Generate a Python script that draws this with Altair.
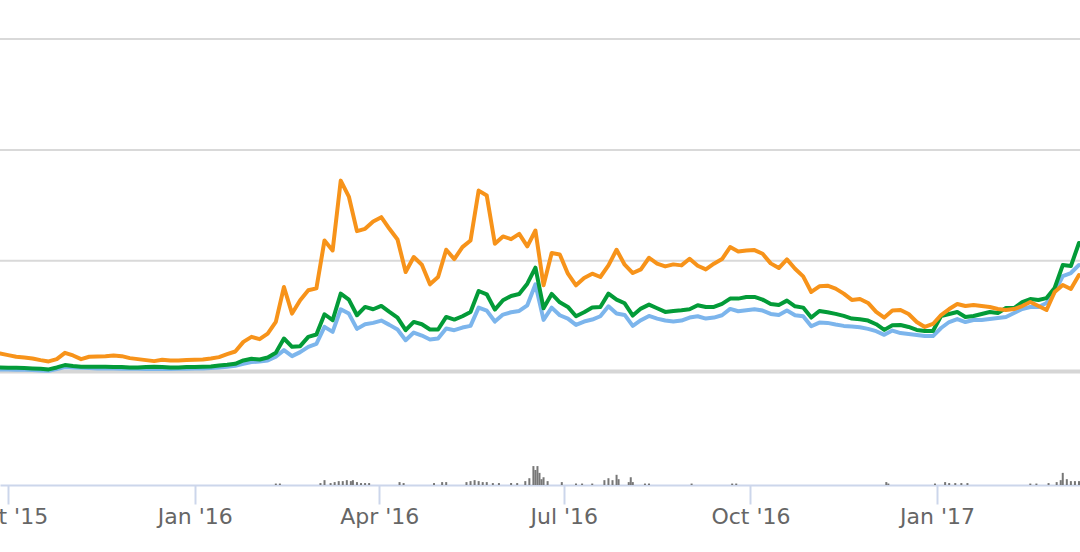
import altair as alt
import pandas as pd

# 4-day sampling grid, Sep 27 2015 .. Mar 12 2017
dates = pd.date_range("2015-09-27", periods=134, freq="4D").strftime("%Y-%m-%d").tolist()

orange = [1.63, 1.48, 1.33, 1.27, 1.18, 1.03, 0.91, 1.12, 1.69, 1.45,
          1.12, 1.33, 1.36, 1.39, 1.45, 1.39, 1.21, 1.12, 1.03, 0.94,
          1.06, 1.00, 1.00, 1.03, 1.06, 1.09, 1.18, 1.30, 1.57, 1.81,
          2.68, 3.13, 2.92, 3.43, 4.48, 7.63, 5.23, 6.43, 7.33, 7.51,
          11.83, 10.93, 17.23, 15.79, 12.67, 12.88, 13.54, 13.93, 12.88, 11.92,
          8.98, 10.33, 9.64, 7.87, 8.53, 10.99, 10.15, 11.23, 11.83, 16.33,
          15.88, 11.53, 12.19, 11.95, 12.43, 11.29, 12.73,
          7.78, 10.69, 10.57, 8.83, 7.78, 8.44, 8.83, 8.53, 9.58, 10.99,
          9.64, 8.89, 9.22, 10.27, 9.73, 9.49, 9.67, 9.58, 10.18, 9.55,
          9.22, 9.73, 10.15, 11.23, 10.84, 10.93, 10.96, 10.63, 9.76, 9.34,
          10.12, 9.28, 8.59, 7.18, 7.69, 7.75, 7.48, 7.03, 6.46, 6.55,
          6.19, 5.38, 4.87, 5.50,
          5.55, 5.19, 4.47, 4.02, 4.29, 5.10, 5.64, 6.09, 5.91, 6.00,
          5.91, 5.82, 5.64, 5.55, 5.64, 5.91, 6.27, 5.91, 5.55, 7.18,
          7.81, 7.45, 8.71]

green = [0.37, 0.34, 0.34, 0.31, 0.28, 0.25, 0.19, 0.37, 0.58, 0.49,
         0.43, 0.43, 0.43, 0.43, 0.40, 0.40, 0.37, 0.37, 0.40, 0.43,
         0.40, 0.37, 0.37, 0.40, 0.40, 0.43, 0.46, 0.55, 0.61, 0.70,
         1.00, 1.15, 1.09, 1.27, 1.69, 2.98, 2.23, 2.29, 3.13, 3.34,
         5.17, 4.63, 7.03, 6.49, 5.08, 5.83, 5.62, 5.92, 5.38, 4.87,
         3.73, 4.48, 4.27, 3.79, 3.79, 4.93, 4.69, 4.99, 5.38, 7.27,
         6.97, 5.59, 6.43, 6.82, 7.00, 7.93, 9.37,
         5.71, 7.00, 6.25, 5.83, 4.99, 5.35, 5.77, 5.83, 7.03, 6.49,
         6.16, 5.05, 5.68, 6.04, 5.71, 5.38, 5.47, 5.53, 5.62, 5.98,
         5.83, 5.83, 6.10, 6.58, 6.58, 6.73, 6.73, 6.49, 6.10, 6.01,
         6.40, 5.89, 5.77, 4.87, 5.47, 5.35, 5.20, 5.02, 4.78, 4.72,
         4.60, 4.27, 3.76, 4.18,
         4.20, 4.02, 3.75, 3.66, 3.66, 5.01, 5.19, 5.37, 4.92, 5.01,
         5.19, 5.37, 5.28, 5.73, 5.73, 6.27, 6.54, 6.45, 6.63, 7.54,
         9.61, 9.52, 11.60]

blue = [0.19, 0.19, 0.16, 0.16, 0.13, 0.10, 0.07, 0.22, 0.40, 0.37,
        0.34, 0.31, 0.28, 0.28, 0.28, 0.25, 0.25, 0.25, 0.22, 0.22,
        0.22, 0.22, 0.25, 0.25, 0.28, 0.28, 0.31, 0.37, 0.43, 0.52,
        0.70, 0.85, 0.91, 1.00, 1.33, 1.93, 1.39, 1.75, 2.23, 2.50,
        4.03, 3.58, 5.62, 5.23, 3.85, 4.27, 4.39, 4.60, 4.21, 3.79,
        2.83, 3.52, 3.25, 2.89, 2.98, 3.88, 3.73, 3.97, 4.12, 5.77,
        5.50, 4.51, 5.14, 5.35, 5.47, 5.98, 7.87,
        4.66, 5.77, 5.08, 4.78, 4.21, 4.51, 4.69, 4.99, 5.89, 5.23,
        5.11, 4.12, 4.63, 5.02, 4.78, 4.60, 4.51, 4.60, 4.87, 4.99,
        4.78, 4.87, 5.08, 5.65, 5.44, 5.53, 5.62, 5.50, 5.20, 5.11,
        5.50, 5.08, 4.99, 4.09, 4.42, 4.39, 4.24, 4.12, 4.06, 4.00,
        3.85, 3.64, 3.31, 3.70,
        3.47, 3.38, 3.29, 3.20, 3.20, 3.93, 4.47, 4.74, 4.47, 4.65,
        4.65, 4.74, 4.83, 4.92, 5.28, 5.64, 5.82, 5.82, 6.18, 7.18,
        8.62, 8.89, 9.61]

vol_dates = ["2016-02-10", "2016-02-12",
             "2016-03-03", "2016-03-05", "2016-03-08", "2016-03-10", "2016-03-12",
             "2016-03-14", "2016-03-16", "2016-03-18", "2016-03-19", "2016-03-21",
             "2016-03-23", "2016-03-25", "2016-03-27",
             "2016-04-11", "2016-04-13",
             "2016-04-28", "2016-05-02", "2016-05-04",
             "2016-05-14", "2016-05-16", "2016-05-18", "2016-05-20", "2016-05-22",
             "2016-05-24", "2016-05-27", "2016-05-30",
             "2016-06-05", "2016-06-08",
             "2016-06-12", "2016-06-14", "2016-06-16", "2016-06-17", "2016-06-18",
             "2016-06-19", "2016-06-20", "2016-06-21", "2016-06-23",
             "2016-06-30", "2016-07-07", "2016-07-10", "2016-07-15",
             "2016-07-21", "2016-07-23", "2016-07-25", "2016-07-27", "2016-07-28",
             "2016-08-02", "2016-08-03", "2016-08-04",
             "2016-08-10", "2016-08-12",
             "2016-09-02",
             "2016-09-22", "2016-09-24",
             "2016-12-07", "2016-12-08",
             "2016-12-31",
             "2017-01-05", "2017-01-07", "2017-01-10", "2017-01-13", "2017-01-16",
             "2017-02-16", "2017-02-19",
             "2017-02-25",
             "2017-03-01", "2017-03-03", "2017-03-04", "2017-03-06", "2017-03-08",
             "2017-03-10", "2017-03-12"]
vol_values = [0.3, 0.3,
              0.4, 1.0, 0.4, 0.6, 0.8, 0.8, 1.0, 0.8, 1.0, 0.6, 0.4, 0.4, 0.4,
              0.6, 0.4,
              0.4, 0.6, 0.6,
              0.6, 0.8, 1.0, 0.8, 0.6, 0.6, 0.4, 0.4,
              0.4, 0.4,
              0.8, 1.4, 3.9, 3.1, 3.9, 2.5, 1.2, 1.6, 0.8,
              0.6, 0.3, 0.3, 0.3,
              1.0, 1.4, 1.0, 2.1, 1.2,
              0.6, 1.6, 0.6,
              0.3, 0.3,
              0.3,
              0.3, 0.3,
              0.6, 0.3,
              0.3,
              0.6, 0.4, 0.4, 0.4, 0.4,
              0.3, 0.3,
              0.4,
              0.6, 1.0, 2.5, 1.2, 0.8, 0.8, 0.8]

grid_values = [10, 20, 30]
zero_value = [0]
tick_dates = [(2015, 10), (2016, 1), (2016, 4), (2016, 7), (2016, 10), (2017, 1)]

Y_DOMAIN = [-10.24, 33.53]
VOL_DOMAIN = [0, 100]

x_enc = alt.X(
    "date:T",
    scale=alt.Scale(
        type="utc",
        padding=0,
        domain=[alt.DateTime(year=2015, month=9, date=27, utc=True),
                alt.DateTime(year=2017, month=3, date=12, hours=12, utc=True)],
    ),
    axis=alt.Axis(
        values=[alt.DateTime(year=y, month=m, date=1, utc=True) for y, m in tick_dates],
        format="%b '%y",
        title=None,
        grid=False,
        labelFont="DejaVu Sans",
        labelFontSize=22,
        labelColor="#666666",
        labelPadding=2,
        labelOverlap=False,
        labelFlush=False,
        labelBound=False,
        domainColor="#ccd6eb",
        domainWidth=2,
        tickColor="#ccd6eb",
        tickWidth=2,
        tickSize=19,
    ),
)

def yv(field):
    return alt.Y(field, scale=alt.Scale(domain=Y_DOMAIN, nice=False, zero=False), axis=None)

grid = alt.Chart(pd.DataFrame({"v": grid_values})).mark_rule(
    color="#d9d9d9", strokeWidth=2).encode(y=yv("v:Q"))
zero = alt.Chart(pd.DataFrame({"v": zero_value})).mark_rule(
    color="#d6d6d6", strokeWidth=4).encode(y=yv("v:Q"))

vol = alt.Chart(pd.DataFrame({"date": vol_dates, "vol": vol_values})).mark_bar(
    size=2, color="#777777").encode(
    x=x_enc,
    y=alt.Y("vol:Q", scale=alt.Scale(domain=VOL_DOMAIN, nice=False), axis=None),
)

def line(values, color):
    df = pd.DataFrame({"date": dates, "value": values})
    return alt.Chart(df).mark_line(
        color=color, strokeWidth=4, strokeJoin="round", strokeCap="round"
    ).encode(x=x_enc, y=yv("value:Q"))

chart = alt.layer(
    grid, zero, vol,
    line(blue, "#7cb5ec"),
    line(green, "#039b38"),
    line(orange, "#f7931a"),
).resolve_scale(y="independent").properties(
    width=1080,
    height=485,
    autosize="none",
    padding={"left": 0, "right": 0, "top": 0, "bottom": 67},
).configure_view(stroke=None)

chart.save("out.html", embed_options={"renderer": "svg", "actions": False})
